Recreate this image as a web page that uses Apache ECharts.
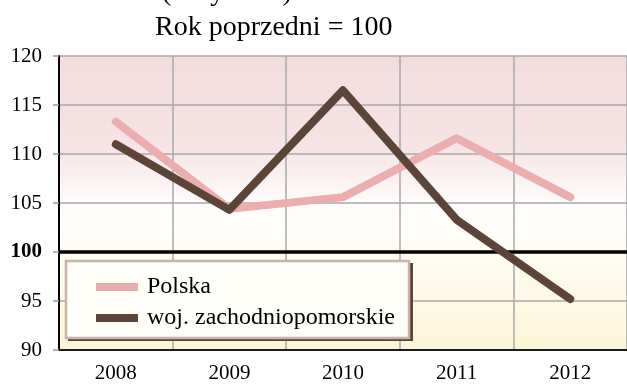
<!DOCTYPE html>
<html>
<head>
<meta charset="utf-8">
<script src="https://cdn.jsdelivr.net/npm/echarts@6/dist/echarts.min.js"></script>
<style>
  html, body { margin: 0; padding: 0; background: #ffffff; }
  #chart { width: 627px; height: 386px; }
</style>
</head>
<body>
<div id="chart"></div>
<script>
// Yearly index values (previous year = 100)
const years = ['2008', '2009', '2010', '2011', '2012'];
const polska = [113.3, 104.4, 105.6, 111.6, 105.6];
const zachodniopomorskie = [111.0, 104.3, 116.5, 103.3, 95.2];
const yTicks = { min: 90, max: 120, step: 5 };
const baseLine = 100;

const serif = 'Liberation Serif, Times New Roman, serif';

const chart = echarts.init(document.getElementById('chart'), null, { renderer: 'canvas' });

chart.setOption({
  animation: false,
  backgroundColor: '#ffffff',
  title: [
    {
      text: '(ceny stałe)',
      left: 162,
      top: -21,
      padding: 0,
      textStyle: { fontFamily: serif, fontSize: 28, fontWeight: 'normal', color: '#000' }
    },
    {
      text: 'Rok poprzedni = 100',
      left: 155,
      top: 14,
      padding: 0,
      textStyle: { fontFamily: serif, fontSize: 28, fontWeight: 'normal', color: '#000' }
    }
  ],
  grid: {
    left: 59,
    right: -5,
    top: 56,
    bottom: 36,
    show: true,
    borderWidth: 0,
    backgroundColor: new echarts.graphic.LinearGradient(0, 0, 0, 1, [
      { offset: 0, color: '#f4dcdd' },
      { offset: 0.3, color: '#f6e3e4' },
      { offset: 0.5, color: '#fefcfc' },
      { offset: 0.58, color: '#fffefa' },
      { offset: 1, color: '#fcf5d6' }
    ])
  },
  // Legend frame: dark drop shadow under a light bordered panel
  graphic: [
    {
      type: 'rect',
      z: 2,
      silent: true,
      shape: { x: 68, y: 263, width: 345, height: 78 },
      style: { fill: '#5c4538' }
    },
    {
      type: 'rect',
      z: 2,
      silent: true,
      shape: { x: 66, y: 261, width: 343, height: 77 },
      style: { fill: '#fffdf8', stroke: '#c9b3a8', lineWidth: 2.5 }
    }
  ],
  legend: {
    orient: 'vertical',
    left: 96,
    top: 275,
    padding: 0,
    itemGap: 7,
    itemWidth: 42,
    itemHeight: 8,
    icon: 'rect',
    z: 5,
    textStyle: {
      fontFamily: serif,
      fontSize: 24,
      color: '#000',
      padding: [0, 0, 0, 4]
    },
    data: ['Polska', 'woj. zachodniopomorskie']
  },
  xAxis: {
    type: 'category',
    data: years,
    boundaryGap: true,
    axisLine: { show: true, lineStyle: { color: '#1a1a1a', width: 2 } },
    axisTick: { show: false },
    axisLabel: { fontFamily: serif, fontSize: 21, color: '#000', margin: 13 },
    splitLine: { show: true, lineStyle: { color: '#a9a9a9', width: 1.5 } }
  },
  yAxis: {
    type: 'value',
    min: yTicks.min,
    max: yTicks.max,
    interval: yTicks.step,
    axisLine: { show: true, lineStyle: { color: '#000', width: 2 } },
    axisTick: { show: true, inside: false, length: 6, lineStyle: { color: '#9a9a9a', width: 1.5 } },
    axisLabel: {
      fontFamily: serif,
      fontSize: 21,
      color: '#000',
      margin: 17,
      formatter: function (v) {
        return v === baseLine ? '{b|' + v + '}' : String(v);
      },
      rich: {
        b: { fontFamily: serif, fontSize: 21, fontWeight: 'bold', color: '#000' }
      }
    },
    splitLine: { show: true, lineStyle: { color: '#a9a9a9', width: 1.5 } }
  },
  series: [
    {
      name: 'Polska',
      type: 'line',
      data: polska,
      symbol: 'none',
      color: '#ebadad',
      lineStyle: { color: '#ebadad', width: 8, cap: 'round', join: 'round' },
      z: 3
    },
    {
      name: 'woj. zachodniopomorskie',
      type: 'line',
      data: zachodniopomorskie,
      symbol: 'none',
      color: '#5c4538',
      lineStyle: { color: '#5c4538', width: 8, cap: 'round', join: 'round' },
      z: 4,
      markLine: {
        silent: true,
        symbol: 'none',
        label: { show: false },
        lineStyle: { color: '#000', width: 3.5, type: 'solid' },
        data: [{ yAxis: baseLine }],
        z: 2
      }
    }
  ]
});
</script>
</body>
</html>
